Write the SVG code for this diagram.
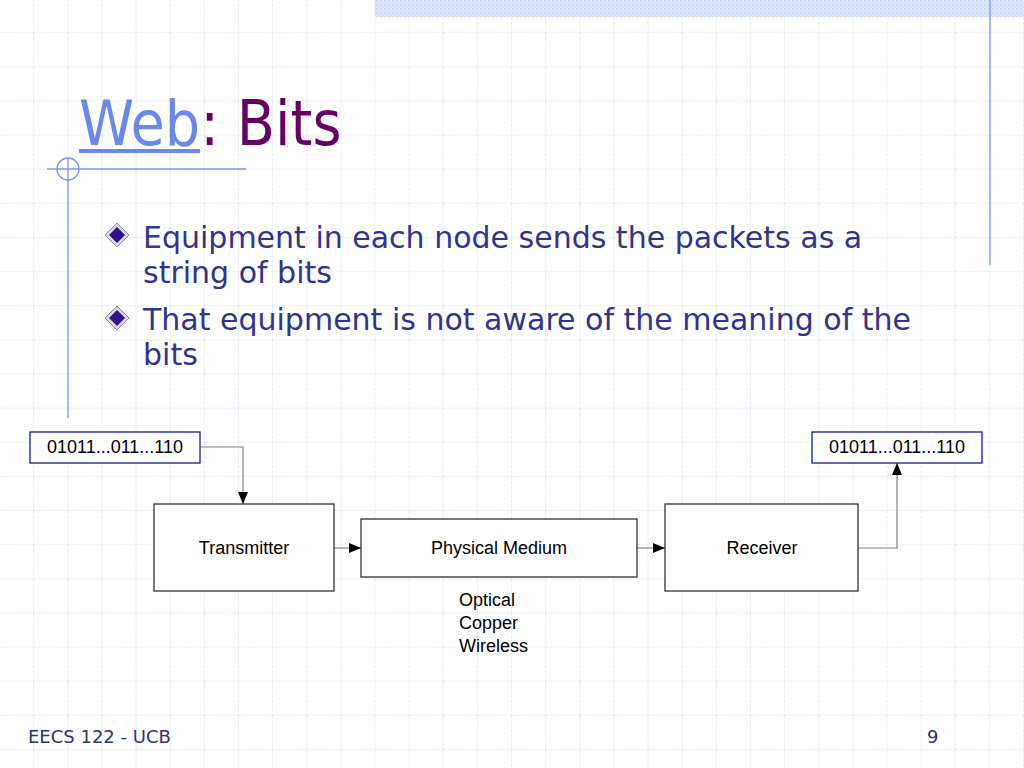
<svg xmlns="http://www.w3.org/2000/svg" width="1024" height="768" viewBox="0 0 1024 768">
<defs>
<pattern id="grid" width="34.1333" height="34.1333" patternUnits="userSpaceOnUse" x="0" y="-1">
<path d="M34.1333 0V34.1333M0 34.1333H34.1333" fill="none" stroke="#d6dbf3" stroke-width="1.2" stroke-dasharray="3 1.5"/>
</pattern>
<pattern id="dots" width="4" height="4" patternUnits="userSpaceOnUse">
<rect width="4" height="4" fill="#e3eafb"/>
<rect width="2" height="2" fill="#c9d6f6"/>
<rect x="2" y="2" width="2" height="2" fill="#d2ddf8"/>
</pattern>
<marker id="arrow" viewBox="0 0 12 10" refX="12" refY="5" markerWidth="12" markerHeight="10" markerUnits="userSpaceOnUse" orient="auto">
<path d="M0 0L12 5L0 10Z" fill="#000"/>
</marker>
<g id="diamond">
<path d="M0 -12L12 0L0 12L-12 0Z" fill="#d8d8e8" stroke="#8888a0" stroke-width="1"/>
<path d="M0 -8L8 0L0 8L-8 0Z" fill="#33108f"/>
</g>
</defs>
<style>
.title{font-family:"DejaVu Sans Condensed","DejaVu Sans",sans-serif;font-size:62px}
.bul{font-family:"DejaVu Sans",sans-serif;font-size:30px;fill:#333391}
.foot{font-family:"DejaVu Sans",sans-serif;font-size:18px;fill:#333370}
.lbl{font-family:"Liberation Sans",Arial,sans-serif;font-size:18px;fill:#000}
.box{fill:#fff;stroke:#333;stroke-width:1.3}
.bits{fill:#fff;stroke:#1a1a99;stroke-width:1.3}
.conn{fill:none;stroke:#808080;stroke-width:1.2}
.deco{fill:none;stroke:#7f95e6;stroke-width:1.3}
</style>
<rect width="1024" height="768" fill="#fff"/>
<rect width="1024" height="768" fill="url(#grid)"/>
<rect x="375" y="0" width="649" height="17" fill="url(#dots)"/>
<g id="decoration">
<line class="deco" x1="990" y1="0" x2="990" y2="265"/>
<line class="deco" x1="47" y1="169" x2="246" y2="169"/>
<circle class="deco" cx="68" cy="169" r="11"/>
<line class="deco" x1="68" y1="158" x2="68" y2="418"/>
</g>
<g id="title">
<text class="title" x="79" y="145"><tspan fill="#6b88f2">Web</tspan><tspan fill="#660066">: Bits</tspan></text>
<rect x="79" y="149" width="121" height="4" fill="#6b88f2"/>
</g>
<g id="bullets">
<use href="#diamond" x="117" y="235"/>
<text class="bul" x="143" y="248">Equipment in each node sends the packets as a</text>
<text class="bul" x="143" y="283">string of bits</text>
<use href="#diamond" x="117" y="318"/>
<text class="bul" x="143" y="330">That equipment is not aware of the meaning of the</text>
<text class="bul" x="143" y="365">bits</text>
</g>
<g id="connectors">
<path class="conn" d="M200 447H243V504" marker-end="url(#arrow)"/>
<path class="conn" d="M334 548H361" marker-end="url(#arrow)"/>
<path class="conn" d="M637 548H665" marker-end="url(#arrow)"/>
<path class="conn" d="M858 548H897V463" marker-end="url(#arrow)"/>
</g>
<g id="input-bits">
<rect class="bits" x="30" y="432" width="170" height="31"/>
<text class="lbl" x="115" y="453" text-anchor="middle">01011...011...110</text>
</g>
<g id="transmitter">
<rect class="box" x="154" y="504" width="180" height="87"/>
<text class="lbl" x="244" y="554" text-anchor="middle">Transmitter</text>
</g>
<g id="physical-medium">
<rect class="box" x="361" y="519" width="276" height="58"/>
<text class="lbl" x="499" y="554" text-anchor="middle">Physical Medium</text>
</g>
<g id="receiver">
<rect class="box" x="665" y="504" width="193" height="87"/>
<text class="lbl" x="762" y="554" text-anchor="middle">Receiver</text>
</g>
<g id="output-bits">
<rect class="bits" x="812" y="432" width="170" height="31"/>
<text class="lbl" x="897" y="453" text-anchor="middle">01011...011...110</text>
</g>
<g id="media">
<text class="lbl" x="459" y="606">Optical</text>
<text class="lbl" x="459" y="629">Copper</text>
<text class="lbl" x="459" y="652">Wireless</text>
</g>
<g id="footer">
<text class="foot" x="28" y="743">EECS 122 - UCB</text>
<text class="foot" x="927" y="743">9</text>
</g>
</svg>
